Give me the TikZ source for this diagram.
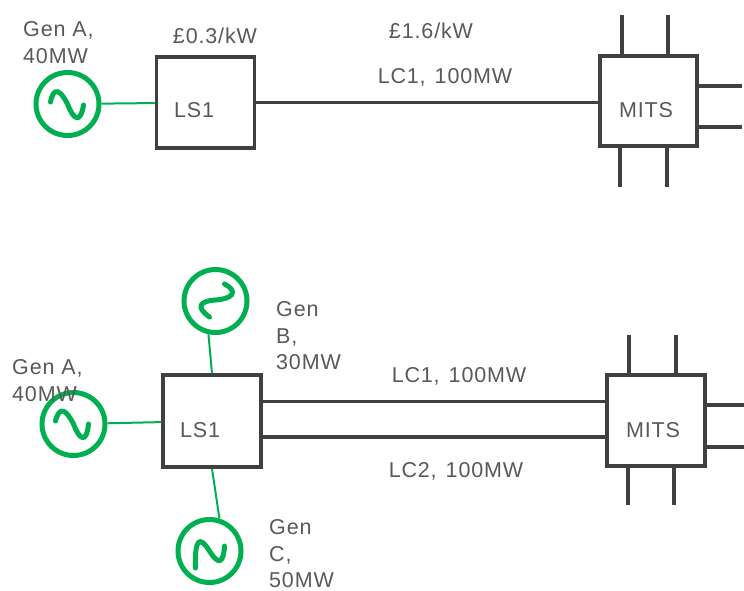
\documentclass[tikz,border=0pt]{standalone}
\usepackage{fontspec}
\setmainfont[LetterSpace=4]{Liberation Sans}
\definecolor{gr}{HTML}{00B050}
\definecolor{ln}{HTML}{404040}
\definecolor{tx}{HTML}{595959}
\begin{document}
\begin{tikzpicture}[x=1pt,y=-1pt,
  box/.style={draw=ln, line width=3.5pt, fill=white, rectangle, inner sep=0pt},
  gen/.style={draw=gr, line width=5pt, circle, minimum size=63pt, inner sep=0pt},
  wave/.style={draw=gr, line width=5pt, line cap=round},
  gline/.style={draw=gr, line width=2pt},
  bus/.style={draw=ln, line width=3.5pt},
  stub/.style={draw=ln, line width=4pt},
  txt/.style={text=tx, font=\fontsize{21.5}{26.5}\selectfont, inner sep=0pt},
  mtxt/.style={txt, align=left, anchor=north west}]
\useasboundingbox (0,0) rectangle (744,590);

% ---------- top diagram ----------
\node[box, minimum width=98pt, minimum height=91pt] (LS1a) at (205.5,102.5) {};
\node[box, minimum width=97pt, minimum height=90pt] (MITS1) at (648.5,101) {};
\node[gen] (GA1) at (67.5,104) {};
\begin{scope}[shift={(GA1.center)},x=1pt,y=1pt]
  \draw[wave] (-17,2) .. controls (-14,18) and (-7,14) .. (0,0) .. controls (6,-16) and (13,-20) .. (16,-1);
\end{scope}
\draw[gline] (GA1) -- (LS1a);
\draw[bus] (LS1a.east) -- (LS1a.east -| MITS1.west);

\coordinate (m1t1) at (622,15);
\coordinate (m1t2) at (668,15);
\coordinate (m1b1) at (620,187);
\coordinate (m1b2) at (667,187);
\coordinate (m1r1) at (742,86);
\coordinate (m1r2) at (742,127);
\draw[stub] (m1t1) -- (m1t1 |- MITS1.north);
\draw[stub] (m1t2) -- (m1t2 |- MITS1.north);
\draw[stub] (m1b1) -- (m1b1 |- MITS1.south);
\draw[stub] (m1b2) -- (m1b2 |- MITS1.south);
\draw[stub] (m1r1) -- (m1r1 -| MITS1.east);
\draw[stub] (m1r2) -- (m1r2 -| MITS1.east);

\node[txt, anchor=base] (LS1aT) at (194,117) {LS1};
\node[txt, anchor=base] (MITS1T) at (646,117) {MITS};
\node[txt, anchor=base] (P1) at (215,43) {£0.3/kW};
\node[txt, anchor=base] (P2) at (431,38) {£1.6/kW};
\node[txt, anchor=base] (LC1a) at (445,83) {LC1,\hspace{0.1em} 100MW};
\node[mtxt] (GA1T) at (23,21.5) {Gen A,\\40MW};

% ---------- bottom diagram ----------
\node[box, minimum width=98pt, minimum height=92pt] (LS1b) at (212,421) {};
\node[box, minimum width=98pt, minimum height=91pt] (MITS2) at (656,420.5) {};
\node[gen] (GA2) at (73.5,424) {};
\node[gen] (GB) at (215.5,301) {};
\node[gen] (GC) at (209.5,551) {};
\begin{scope}[shift={(GA2.center)},x=1pt,y=1pt]
  \draw[wave] (-18,3) .. controls (-14,19) and (-7,14) .. (0,0) .. controls (6,-16) and (13,-20) .. (15,0);
\end{scope}
\begin{scope}[shift={(GB.center)},x=1pt,y=1pt]
  \draw[wave] (9,17) .. controls (24,9) and (16,2) .. (0,1) .. controls (-16,0) and (-20,-6) .. (-6,-16);
\end{scope}
\begin{scope}[shift={(GC.center)},x=1pt,y=1pt]
  \draw[wave] (-14,-17) .. controls (-15,12) and (-10,16) .. (0,0) .. controls (8,-13) and (14,-14) .. (15,5);
\end{scope}
\draw[gline] (GA2) -- (LS1b);
\draw[gline] (GB.-102) -- (LS1b.north);
\draw[gline] (LS1b.south) -- (GC.73);
\draw[bus] ([yshift=19.5pt]LS1b.east) -- ([yshift=19.5pt]LS1b.east -| MITS2.west);
\draw[bus] ([yshift=-16pt]LS1b.east) -- ([yshift=-16pt]LS1b.east -| MITS2.west);

\coordinate (m2t1) at (629,335);
\coordinate (m2t2) at (675.5,335);
\coordinate (m2b1) at (627.5,505);
\coordinate (m2b2) at (674,505);
\coordinate (m2r1) at (744,405);
\coordinate (m2r2) at (744,446.5);
\draw[stub] (m2t1) -- (m2t1 |- MITS2.north);
\draw[stub] (m2t2) -- (m2t2 |- MITS2.north);
\draw[stub] (m2b1) -- (m2b1 |- MITS2.south);
\draw[stub] (m2b2) -- (m2b2 |- MITS2.south);
\draw[stub] (m2r1) -- (m2r1 -| MITS2.east);
\draw[stub] (m2r2) -- (m2r2 -| MITS2.east);

\node[txt, anchor=base] (LS1bT) at (200,437.5) {LS1};
\node[txt, anchor=base] (MITS2T) at (653,437) {MITS};
\node[txt, anchor=base] (LC1b) at (459,382) {LC1,\hspace{0.1em} 100MW};
\node[txt, anchor=base] (LC2b) at (456,477) {LC2,\hspace{0.1em} 100MW};
\node[mtxt] (GA2T) at (12,359.5) {Gen A,\\40MW};
\node[mtxt] (GBT) at (276,301.5) {Gen\\B,\\30MW};
\node[mtxt] (GCT) at (269,519.5) {Gen\\C,\\50MW};
\end{tikzpicture}
\end{document}
